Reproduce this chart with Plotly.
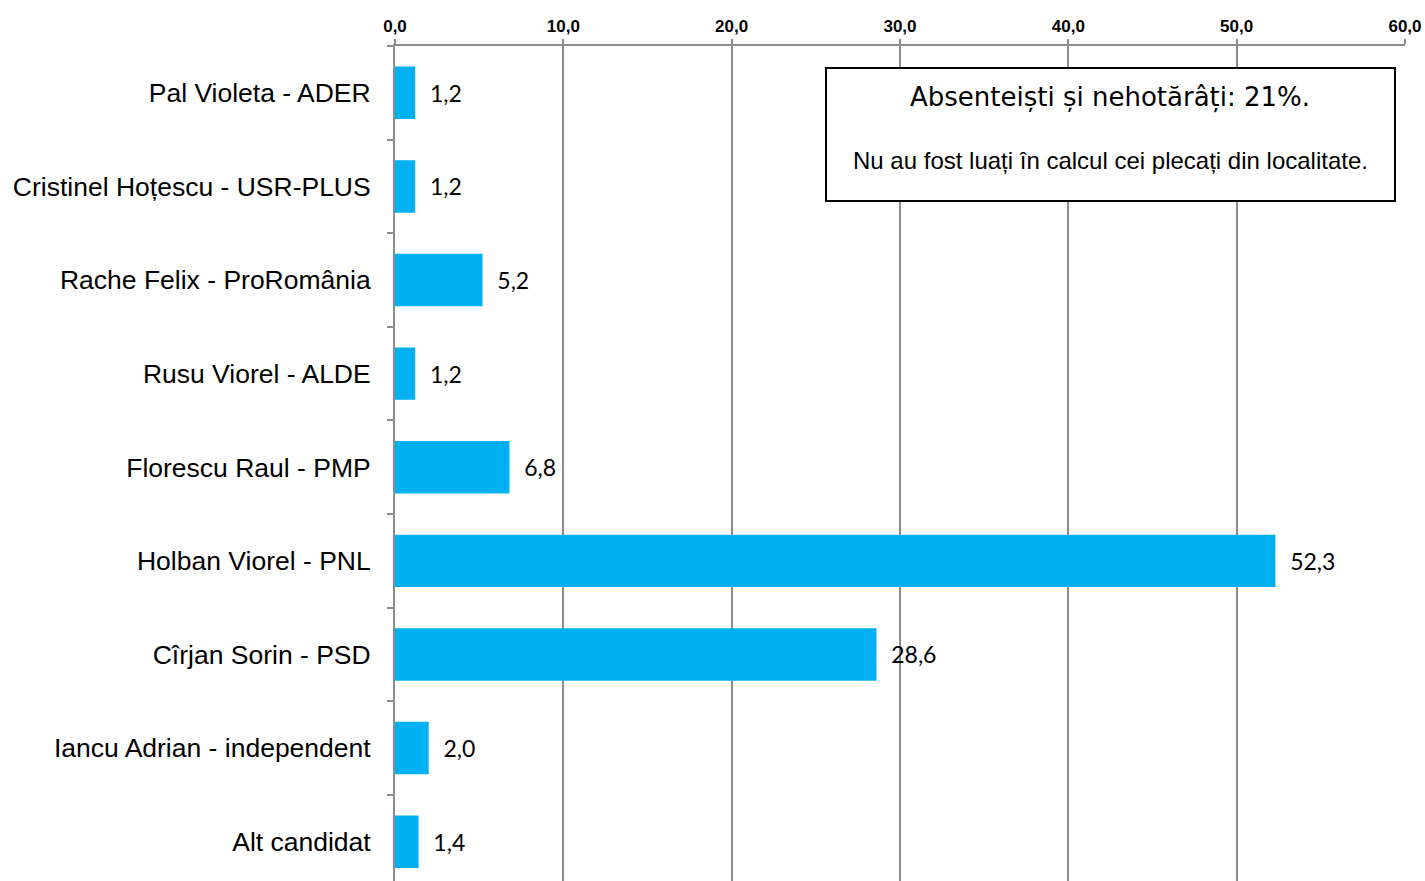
import plotly.graph_objects as go

categories = ["Pal Violeta - ADER", "Cristinel Hoțescu - USR-PLUS", "Rache Felix - ProRomânia",
              "Rusu Viorel - ALDE", "Florescu Raul - PMP", "Holban Viorel - PNL",
              "Cîrjan Sorin - PSD", "Iancu Adrian - independent", "Alt candidat"]
values = [1.2, 1.2, 5.2, 1.2, 6.8, 52.3, 28.6, 2.0, 1.4]
x_ticks = [0, 10, 20, 30, 40, 50, 60]
box_title = "Absenteiști și nehotărâți: 21%."
box_note = "Nu au fost luați în calcul cei plecați din localitate."

OFF = 0  # page body margin removed via post_script
W, H = 1425 - OFF, 881 - OFF
L, R, T, B = 395 - OFF, 20, 46 - OFF, 0

fig = go.Figure(go.Bar(
    x=values, y=categories, orientation="h",
    marker=dict(color="#00B0F0", line=dict(width=0)),
    width=0.56,
    texttemplate="  %{x:.1f}", textposition="outside",
    textfont=dict(family="Lato, Open Sans, sans-serif", size=23, color="#000"),
    cliponaxis=False, hoverinfo="skip",
))

fig.update_layout(
    width=W, height=H, margin=dict(l=L, r=R, t=T, b=B),
    plot_bgcolor="white", paper_bgcolor="white",
    separators=",.", showlegend=False,
    font=dict(family="Liberation Sans, Arial, sans-serif", color="#000"),
)
fig.update_xaxes(
    side="top", range=[0, 60], tickvals=x_ticks, tickformat=".1f",
    showgrid=True, gridcolor="#8c8c8c", gridwidth=2,
    showline=True, linecolor="#8c8c8c", linewidth=2,
    ticks="outside", ticklen=5, tickcolor="#8c8c8c", tickwidth=2,
    tickfont=dict(family="Liberation Sans, Arial, sans-serif", size=17, color="#000", weight="bold"),
    zeroline=False,
)
fig.update_yaxes(
    autorange=False, range=[8.42, -0.5], type="category",
    showline=True, linecolor="#8c8c8c", linewidth=2,
    ticks="outside", ticklen=6, tickcolor="#8c8c8c", tickwidth=2,
    tickson="boundaries", ticklabelstandoff=17,
    tickfont=dict(family="Liberation Sans, Arial, sans-serif", size=26.5, color="#000"),
    showgrid=False,
)

pw = W - L - R
ph = H - T - B
def px(x):
    return (x - OFF - L) / pw
def py(y):
    return 1 - (y - OFF - T) / ph

fig.add_shape(type="rect", xref="paper", yref="paper",
              x0=px(826), x1=px(1395), y0=py(201), y1=py(68),
              line=dict(color="#000", width=2), fillcolor="white", layer="above")
fig.add_annotation(xref="paper", yref="paper", x=px(1110), y=py(98), text=box_title,
                   showarrow=False, xanchor="center", yanchor="middle",
                   font=dict(family="DejaVu Sans, sans-serif", size=26, color="#000"))
fig.add_annotation(xref="paper", yref="paper", x=px(1110), y=py(160), text=box_note,
                   showarrow=False, xanchor="center", yanchor="middle",
                   font=dict(family="Liberation Sans, Arial, sans-serif", size=24, color="#000"))

fig.write_html("out.html", config={"displayModeBar": False, "staticPlot": True},
               post_script="document.body.style.margin='0';document.body.style.overflow='hidden';")
